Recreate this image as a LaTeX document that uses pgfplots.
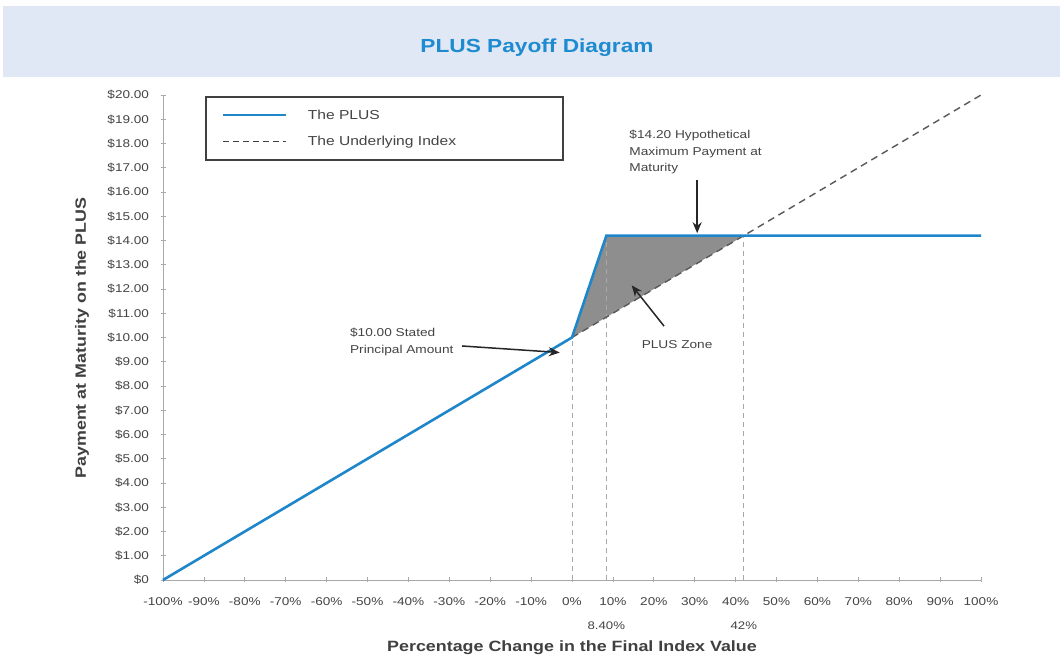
\documentclass[border=0pt]{standalone}
\usepackage{pgfplots}
\pgfplotsset{compat=1.18}
\usepackage{fontspec}
\setmainfont{Liberation Sans}[FakeStretch=1.2]
\usetikzlibrary{arrows.meta}
\definecolor{plusblue}{HTML}{1E86C9}
\definecolor{titleblue}{HTML}{1E8AD0}
\definecolor{band}{HTML}{E0E8F5}
\definecolor{axgray}{HTML}{A8A8A8}
\definecolor{txtgray}{HTML}{444444}
\definecolor{zonegray}{HTML}{8E8E8E}
\begin{document}
\begin{tikzpicture}
\fill[white] (0,0) rectangle (1060pt,660pt);
\fill[band] (3pt,583pt) rectangle (1060pt,654pt);
\node[font=\fontsize{18.9}{22}\selectfont\bfseries, text=titleblue] at (537pt,612pt) {PLUS Payoff Diagram};
\begin{axis}[
  at={(163pt,80pt)}, anchor=south west,
  scale only axis, width=818pt, height=485pt,
  xmin=-100, xmax=100, ymin=0, ymax=20,
  axis x line*=bottom, axis y line*=left,
  axis line style={draw=axgray, line width=0.9pt, -},
  tick style={draw=axgray, line width=0.8pt},
  major tick length=5pt, tick align=center,
  xtick={-100,-90,...,100},
  xticklabels={-100\%,-90\%,-80\%,-70\%,-60\%,-50\%,-40\%,-30\%,-20\%,-10\%,0\%,10\%,20\%,30\%,40\%,50\%,60\%,70\%,80\%,90\%,100\%},
  ytick={0,1,...,20},
  yticklabels={\$0,\$1.00,\$2.00,\$3.00,\$4.00,\$5.00,\$6.00,\$7.00,\$8.00,\$9.00,\$10.00,\$11.00,\$12.00,\$13.00,\$14.00,\$15.00,\$16.00,\$17.00,\$18.00,\$19.00,\$20.00},
  ticklabel style={font=\fontsize{11.3}{13}\selectfont, text=txtgray},
  xticklabel style={yshift=-12pt},
  yticklabel style={xshift=-8pt},
  clip=false,
  legend style={at={(axis cs:-89.7,19.96)}, anchor=north west,
    draw=black!75, line width=1.8pt, fill=white,
    font=\fontsize{13}{15}\selectfont, text=txtgray,
    inner xsep=16pt, inner ysep=11pt, row sep=11pt,
    legend cell align=left},
  legend image code/.code={\draw (0pt,0pt) -- (63pt,0pt);},
  legend style={nodes={text width=254pt, inner xsep=3pt}},
]
\addlegendimage{draw=plusblue, line width=1.8pt}
\addlegendentry{\hspace*{18pt}The PLUS}
\addlegendimage{draw=black!75, line width=1.2pt, dash pattern=on 6pt off 4pt}
\addlegendentry{\hspace*{18pt}The Underlying Index}
% PLUS zone
\addplot[fill=zonegray, draw=none, forget plot] coordinates {(0,10) (8.4,14.2) (42,14.2)} -- cycle;
% guide lines
\addplot[draw=axgray, line width=0.8pt, dash pattern=on 5pt off 4pt, forget plot] coordinates {(0,0) (0,10)};
\addplot[draw=axgray, line width=0.8pt, dash pattern=on 5pt off 4pt, forget plot] coordinates {(8.4,0) (8.4,14.2)};
\addplot[draw=axgray, line width=0.8pt, dash pattern=on 5pt off 4pt, forget plot] coordinates {(42,0) (42,14.2)};
% underlying index
\addplot[draw=black!65, line width=1.4pt, dash pattern=on 7pt off 5pt, forget plot] coordinates {(0,10) (100,20)};
% PLUS
\addplot[draw=plusblue, line width=2.6pt, forget plot] coordinates {(-100,0) (0,10) (8.4,14.2) (100,14.2)};
% annotations
\node[align=left, anchor=north west, font=\fontsize{11.4}{17}\selectfont, text=txtgray, inner sep=0pt] at (axis cs:-54.3,10.4) {\$10.00 Stated\\Principal Amount};
\draw[black!85, line width=1.5pt, -{Stealth[length=11pt,width=9pt]}] (axis cs:-26.9,9.65) -- (axis cs:-3.0,9.38);
\node[align=left, anchor=north west, font=\fontsize{11.4}{16.5}\selectfont, text=txtgray, inner sep=0pt] at (axis cs:14,18.55) {\$14.20 Hypothetical\\Maximum Payment at\\Maturity};
\draw[black!85, line width=1.5pt, -{Stealth[length=11pt,width=9pt]}] (axis cs:30.6,16.5) -- (axis cs:30.6,14.3);
\node[font=\fontsize{11.4}{13}\selectfont, text=txtgray] at (axis cs:25.7,9.69) {PLUS Zone};
\draw[black!85, line width=1.5pt, -{Stealth[length=11pt,width=9pt]}] (axis cs:22.5,10.47) -- (axis cs:14.6,12.15);
\node[font=\fontsize{11}{13}\selectfont, text=txtgray] at (axis cs:8.4,-1.9) {8.40\%};
\node[font=\fontsize{11}{13}\selectfont, text=txtgray] at (axis cs:42,-1.9) {42\%};
\end{axis}
\node[font=\fontsize{14.9}{17}\selectfont\bfseries, text=black!75] at (572pt,12pt) {Percentage Change in the Final Index Value};
\node[font=\fontsize{14.9}{17}\selectfont\bfseries, text=black!75, rotate=90] at (82pt,322pt) {Payment at Maturity on the PLUS};
\pgfresetboundingbox
\useasboundingbox (0,0) rectangle (1060pt,660pt);
\end{tikzpicture}
\end{document}
